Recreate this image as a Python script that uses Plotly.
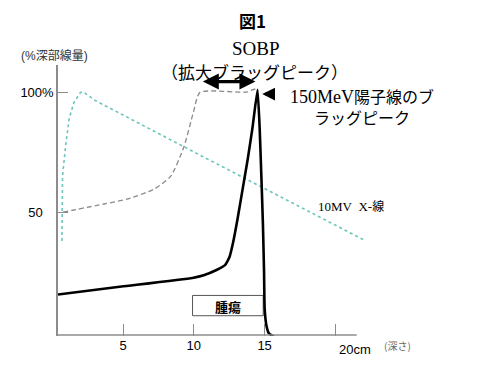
import plotly.graph_objects as go

# ---- data (depth in cm, relative dose in %) ----
bragg_depth = [0.41, 4.9, 9.9, 10.7, 11.6, 12.2, 12.52, 12.75, 13.1, 13.45, 13.8, 14.14, 14.5,
               14.65, 14.77, 14.88, 14.96, 15.0, 15.12, 15.3, 15.65]
bragg_dose = [15.7, 19.0, 22.6, 23.7, 25.9, 27.9, 31.3, 36.7, 47.6, 59.7, 71.8, 85.0, 101.0,
              85.0, 65.0, 45.0, 25.0, 10.0, 3.0, -0.5, -2.0]

sobp_depth = [0.76, 3.74, 5.33, 7.2, 8.36, 9.29, 9.98, 10.44, 13.65, 14.3, 14.5]
sobp_dose = [50.0, 53.5, 55.5, 59.6, 64.9, 77.0, 91.8, 99.9, 100.0, 101.2, 101.0]

xray_depth = [0.69, 0.69, 0.73, 0.96, 1.2, 1.54, 2.0, 2.23, 3.04, 10.68, 16.8, 22.05]
xray_dose = [38.0, 61.0, 65.0, 78.3, 89.0, 95.8, 99.9, 100.0, 96.5, 73.0, 54.2, 38.3]

x_tickvals = [5, 10, 15, 20]
x_ticktext = ["5", "10", "15", ""]
y_tickvals = [50, 100]
y_ticktext = ["50\u00a0\u00a0\u00a0", "100%"]

X_RANGE = [0.41, 22.3]
Y_RANGE = [-1.6, 111.3]

SERIF = "Liberation Serif, Noto Sans CJK JP, serif"
SANS = "Liberation Sans, Noto Sans CJK JP, sans-serif"
CJK = "Noto Sans CJK JP, sans-serif"

fig = go.Figure()
fig.add_trace(go.Scatter(x=xray_depth, y=xray_dose, mode="lines",
                         line=dict(color="#6cc4bc", width=1.6, dash="dot"),
                         hoverinfo="skip"))
fig.add_trace(go.Scatter(x=sobp_depth, y=sobp_dose, mode="lines",
                         line=dict(color="#8a8a8a", width=1.3, dash="5px,3px", shape="spline", smoothing=0.6),
                         hoverinfo="skip"))
fig.add_trace(go.Scatter(x=bragg_depth, y=bragg_dose, mode="lines",
                         line=dict(color="black", width=2.6, shape="spline", smoothing=0.4),
                         hoverinfo="skip"))

# x axis line (only up to 21.5 cm), tumour box
fig.add_shape(type="line", x0=X_RANGE[0], x1=21.5, y0=-1.2, y1=-1.2,
              line=dict(color="#8c8c8c", width=1.5))
fig.add_shape(type="rect", x0=9.91, x1=14.9, y0=6.85, y1=15.3,
              line=dict(color="#555555", width=1), fillcolor="white", layer="below")

ann = []
ann.append(dict(x=0.6266, y=1.1643, xref="paper", yref="paper", text="<b>図1</b>",
                font=dict(family=CJK, size=17, color="black")))
ann.append(dict(x=0.639, y=1.061, xref="paper", yref="paper", text="SOBP",
                font=dict(family=SERIF, size=19, color="black")))
ann.append(dict(x=0.6345, y=0.975, xref="paper", yref="paper", text="（拡大ブラッグピーク）",
                font=dict(family=CJK, size=17, color="black")))
ann.append(dict(x=21.9, y=94.0,
                text='<span style="font-family:Liberation Serif;font-size:18px">150MeV</span>陽子線のブ<br>ラッグピーク',
                font=dict(family=CJK, size=16, color="black")))
ann.append(dict(x=21.07, y=52.8,
                text='<span style="font-family:Liberation Serif;font-size:13px">10MV\u00a0\u00a0X-</span>線',
                font=dict(family=CJK, size=12, color="black")))
ann.append(dict(x=12.4, y=10.9, text="<b>腫瘍</b>", font=dict(family=CJK, size=13, color="black")))
ann.append(dict(x=-0.0127, y=1.0357, xref="paper", yref="paper", text="(%深部線量)",
                font=dict(family=SANS, size=12, color="#333333")))
ann.append(dict(x=20, y=0, yref="paper", xanchor="left", yanchor="top", xshift=2, yshift=-4,
                text="20cm", font=dict(family=SANS, size=13, color="black")))
ann.append(dict(x=1.095, y=-0.0357, xref="paper", yref="paper",
                text="(深さ)", font=dict(family=CJK, size=10, color="#666666")))
for a in ann:
    a.setdefault("xref", "x")
    a.setdefault("yref", "y")
    a.setdefault("xanchor", "center")
    a.setdefault("yanchor", "middle")
    a["showarrow"] = False
# arrows
ann.append(dict(x=14.35, y=104.4, ax=10.53, ay=104.4, xref="x", yref="y", axref="x", ayref="y",
                text="", showarrow=True, arrowhead=2, arrowside="end+start", arrowsize=1.0,
                arrowwidth=3.2, arrowcolor="black"))
ann.append(dict(x=14.83, y=99.2, ax=15.74, ay=99.2, xref="x", yref="y", axref="x", ayref="y",
                text="", showarrow=True, arrowhead=2, arrowsize=0.8, arrowwidth=3.2,
                arrowcolor="black"))
fig.update_layout(annotations=ann)

# page body adds an 8px margin: figure is 8px smaller and margins shifted accordingly
fig.update_layout(
    width=492, height=357,
    margin=dict(l=44, r=132, t=57, b=20, pad=0),
    paper_bgcolor="white", plot_bgcolor="white",
    showlegend=False,
    xaxis=dict(range=X_RANGE, showline=False, showgrid=False, zeroline=False,
               ticks="inside", ticklen=12, tickwidth=1.2, tickcolor="#8c8c8c",
               tickvals=x_tickvals, ticktext=x_ticktext,
               tickfont=dict(family=SANS, size=13, color="black")),
    yaxis=dict(range=Y_RANGE, showline=True, linecolor="#8c8c8c", linewidth=1.5,
               showgrid=False, zeroline=False,
               ticks="inside", ticklen=10, tickwidth=1.2, tickcolor="#8c8c8c",
               tickvals=y_tickvals, ticktext=y_ticktext,
               tickfont=dict(family=SANS, size=13, color="black")),
)

fig.write_html("out.html")
